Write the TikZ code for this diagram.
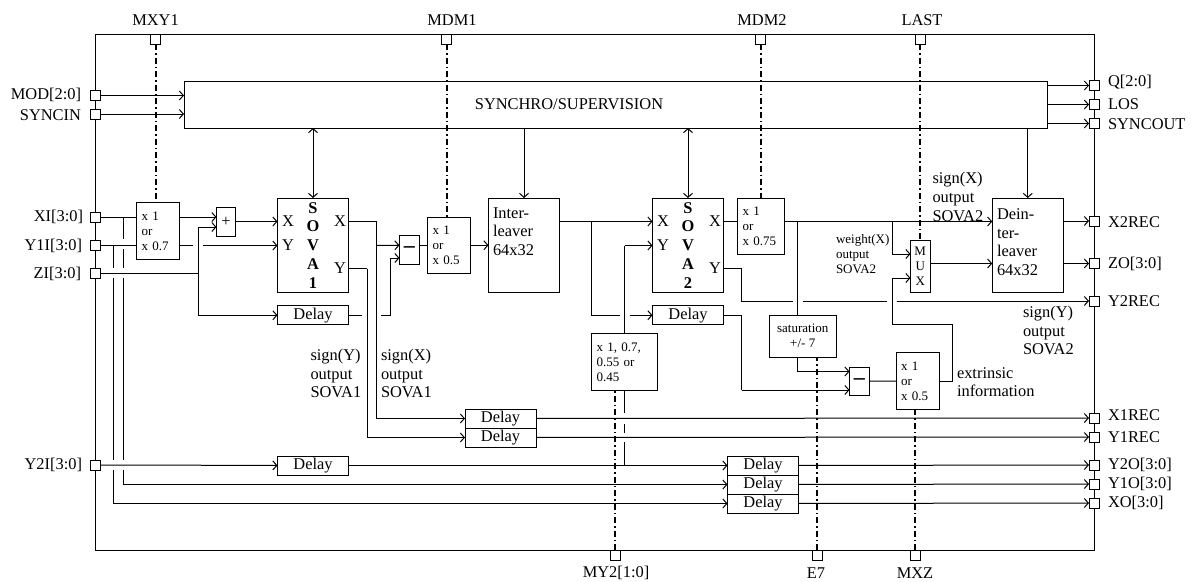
\documentclass[tikz,border=0pt]{standalone}
\usepackage{fontspec}
\setmainfont{Liberation Serif}
\usetikzlibrary{arrows.meta, positioning}

\begin{document}
\begin{tikzpicture}[x=1pt, y=-1pt, line width=1pt, >={Straight Barb[length=4pt,width=9pt]},
        every node/.style={font=\fontsize{16.4}{18.7}\selectfont, inner sep=0pt, outer sep=0pt},
        pad/.style={draw, fill=white, minimum size=10pt},
        blk/.style={draw, fill=white, minimum width=71pt, minimum height=94.5pt},
        dly/.style={draw, fill=white, minimum width=71pt, minimum height=19pt},
        sumbox/.style={draw, fill=white, minimum width=19.5pt, minimum height=28.5pt},
        mulbox/.style={draw, fill=white, align=left, inner xsep=5pt, minimum height=56.5pt, font=\fontsize{13}{15}\selectfont},
        small/.style={align=left, font=\fontsize{13}{15}\selectfont},
        note/.style={align=left},
        ctrl/.style={line width=2pt, dash pattern=on 6pt off 3pt on 1.5pt off 3pt}]
        \useasboundingbox (0,0) rectangle (1194,581);

        % Khung ngoai
        \node[draw, minimum width=999pt, minimum height=516pt] (chip) at (594.5,292) {};

        % Chan ben trai
        \node[pad] (pMOD) at (95,95.5) {};
        \node[pad] (pSYNCIN) at (95,114) {};
        \node[pad] (pXI) at (95,217) {};
        \node[pad] (pYI) at (95,245.5) {};
        \node[pad] (pZI) at (95,273.5) {};
        \node[pad] (pYII) at (95,465) {};
        \node[anchor=east] (tMOD) at (81,95) {MOD[2:0]};
        \node[anchor=east] (tSYNCIN) at (81,115) {SYNCIN};
        \node[anchor=east] (tXI) at (83,217) {XI[3:0]};
        \node[anchor=east] (tYI) at (82,246) {Y1I[3:0]};
        \node[anchor=east] (tZI) at (81,274) {ZI[3:0]};
        \node[anchor=east] (tYII) at (82,465) {Y2I[3:0]};

        % Chan ben phai
        \node[pad] (pQ) at (1094,85.5) {};
        \node[pad] (pLOS) at (1094,104.5) {};
        \node[pad] (pSYNCOUT) at (1094,123.5) {};
        \node[pad] (pXREC) at (1094,221) {};
        \node[pad] (pZO) at (1094,263.5) {};
        \node[pad] (pYREC) at (1094,301) {};
        \node[pad] (pXAREC) at (1094,418) {};
        \node[pad] (pYAREC) at (1094,437) {};
        \node[pad] (pYTO) at (1094,465) {};
        \node[pad] (pYOO) at (1094,484) {};
        \node[pad] (pXO) at (1094,503) {};
        \node[anchor=west] (tQ) at (1108,82) {Q[2:0]};
        \node[anchor=west] (tLOS) at (1108,104) {LOS};
        \node[anchor=west] (tSYNCOUT) at (1108,124) {SYNCOUT};
        \node[anchor=west] (tXREC) at (1108,222) {X2REC};
        \node[anchor=west] (tZO) at (1108,264) {ZO[3:0]};
        \node[anchor=west] (tYREC) at (1108,301) {Y2REC};
        \node[anchor=west] (tXAREC) at (1108,415) {X1REC};
        \node[anchor=west] (tYAREC) at (1108,437) {Y1REC};
        \node[anchor=west] (tYTO) at (1108,465) {Y2O[3:0]};
        \node[anchor=west] (tYOO) at (1108,484) {Y1O[3:0]};
        \node[anchor=west] (tXO) at (1108,503) {XO[3:0]};

        % Chan tren va duoi
        \node[pad] (pMXY) at (155.5,39) {};
        \node[pad] (pMDMA) at (446.5,39) {};
        \node[pad] (pMDMB) at (760.5,39) {};
        \node[pad] (pLAST) at (920,39) {};
        \node[pad] (pMY) at (615,555) {};
        \node[pad] (pE) at (817,555) {};
        \node[pad] (pMXZ) at (915,555) {};
        \node (tMXY) at (155.5,20) {MXY1};
        \node (tMDMA) at (452,20) {MDM1};
        \node (tMDMB) at (762,20) {MDM2};
        \node (tLAST) at (922,20) {LAST};
        \node (tMY) at (616,573) {MY2[1:0]};
        \node (tE) at (816,573) {E7};
        \node (tMXZ) at (915,573) {MXZ};

        % Cac khoi
        \node[draw, minimum width=863pt, minimum height=47pt] (sync) at (615.5,104.5) {};
        \node (tsync) at (569,104.5) {SYNCHRO/SUPERVISION};
        \node[mulbox, text width=32.5pt] (mulA) at (157.75,231) {x 1\\or\\x 0.7};
        \node[draw, minimum width=19pt, minimum height=28.5pt] (add) at (226,221.75) {+};
        \node[blk, align=center] (sovaA) at (313,245.25) {\textbf{S}\\\textbf{O}\\\textbf{V}\\\textbf{A}\\\textbf{1}};
        \node (sAX) at (288,221.5) {X};
        \node (sAY) at (288,245.5) {Y};
        \node (sAXo) at (340,221.5) {X};
        \node (sAYo) at (340,268.5) {Y};
        \node[dly] (dlyA) at (313,315.25) {Delay};
        \node[sumbox] (subA) at (409.25,249.75) {\fontsize{22}{22}\selectfont\bfseries –};
        \node[mulbox, text width=33pt] (mulB) at (449,245.25) {x 1\\or\\x 0.5};
        \node[blk] (inter) at (524,245.25) {};
        \node[anchor=west, note] (tinter) at (493,231.5) {Inter-\\leaver\\64x32};
        \node[blk, align=center] (sovaB) at (688,245.25) {\textbf{S}\\\textbf{O}\\\textbf{V}\\\textbf{A}\\\textbf{2}};
        \node (sBX) at (663,221.5) {X};
        \node (sBY) at (663,245.5) {Y};
        \node (sBXo) at (715,221.5) {X};
        \node (sBYo) at (715,268.5) {Y};
        \node[mulbox, text width=37pt] (mulC) at (761,226.25) {x 1\\or\\x 0.75};
        \node[dly] (dlyB) at (688,315.25) {Delay};
        \node[draw, align=center, minimum width=19.5pt, minimum height=52.5pt, font=\fontsize{13}{15}\selectfont] (mux) at (920.25,266.25) {M\\U\\X};
        \node[blk] (deint) at (1027.75,245.25) {};
        \node[anchor=west, note] (tdeint) at (997,242) {Dein-\\ter-\\leaver\\64x32};
        \node[mulbox, text width=56pt] (mulD) at (624.5,362) {x 1, 0.7,\\0.55 or\\0.45};
        \node[draw, align=center, minimum width=66.5pt, minimum height=42.5pt, font=\fontsize{13}{15}\selectfont] (satur) at (802.75,336.25) {saturation\\+/- 7};
        \node[sumbox] (subB) at (859.25,381.25) {\fontsize{22}{22}\selectfont\bfseries –};
        \node[mulbox, text width=33pt] (mulE) at (917.5,381) {x 1\\or\\x 0.5};
        \node[dly] (dlyC) at (500.5,418.5) {Delay};
        \node[dly] (dlyD) at (500.5,437.5) {Delay};
        \node[dly] (dlyE) at (313,465.5) {Delay};
        \node[dly] (dlyF) at (763,465.5) {Delay};
        \node[dly] (dlyG) at (763,484.5) {Delay};
        \node[dly] (dlyH) at (763,503.5) {Delay};

        % Chu thich
        \node[anchor=west, note] (nXB) at (932.5,197) {sign(X)\\output\\SOVA2};
        \node[anchor=west, small] (nW) at (836,254) {weight(X)\\output\\SOVA2};
        \node[anchor=west, note] (nYA) at (310.5,373.5) {sign(Y)\\output\\SOVA1};
        \node[anchor=west, note] (nXA) at (381,373.5) {sign(X)\\output\\SOVA1};
        \node[anchor=west, note] (nYB) at (1023,330.5) {sign(Y)\\output\\SOVA2};
        \node[anchor=west, note] (nE) at (957,382) {extrinsic\\information};

        % Dong dieu khien
        \draw[ctrl] (pMXY) -- (mulA.north -| pMXY);
        \draw[ctrl] (pMDMA) -- (mulB.north -| pMDMA);
        \draw[ctrl] (pMDMB) -- (mulC.north -| pMDMB);
        \draw[ctrl] (pLAST) -- (mux.north -| pLAST);
        \draw[ctrl] (pMY) -- (mulD.south -| pMY);
        \draw[ctrl] (pE) -- (satur.south -| pE);
        \draw[ctrl] (pMXZ) -- (mulE.south -| pMXZ);

        % Khoi dong bo
        \draw[->] (pMOD) -- (sync.west |- pMOD);
        \draw[->] (pSYNCIN) -- (sync.west |- pSYNCIN);
        \draw[<->] (sync.south -| sovaA) -- (sovaA);
        \draw[->] (sync.south -| inter) -- (inter);
        \draw[<->] (sync.south -| sovaB) -- (sovaB);
        \draw[->] (sync.south -| deint) -- (deint);
        \draw[->] (sync.east |- pQ) -- (pQ);
        \draw[->] (sync.east |- pLOS) -- (pLOS);
        \draw[->] (sync.east |- pSYNCOUT) -- (pSYNCOUT);

        % Nhanh dau vao
        \draw (pXI) -- (mulA.west |- pXI);
        \draw (pYI) -- (mulA.west |- pYI);
        \draw[->] (mulA.east |- pXI) -- (add.west |- pXI);
        \draw[->] (add.east |- sAX) -- (sovaA.west |- sAX);
        \draw (mulA.east |- pYI) -- (193,245.5);
        \draw[->] (203,245.5) -- (sovaA.west |- sAY);
        \draw (pZI) -- (198,273.5);
        \draw[->] (198,315.25) |- (add.west |- 0,227);
        \draw[->] (198,273.5) |- (dlyA);
        \draw (123,217) -- (123,239) (123,249) -- (123,268) (123,278) -- (123,460);
        \draw[->] (123,470) |- (dlyG);
        \draw (113.5,245.5) -- (113.5,268) (113.5,278) -- (113.5,460);
        \draw[->] (113.5,470) |- (dlyH);
        \draw[->] (pYII) -- (dlyE);
        \draw[->] (dlyE) -- (dlyF);

        % SOVA1
        \draw (sovaA.east |- sAXo) -- (376.5,221.5);
        \draw[->] (376.5,221.5) |- (dlyC);
        \draw[->] (376.5,245.5) -- (subA.west |- mulB);
        \draw (sovaA.east |- sAYo) -- (367,268.5);
        \draw[->] (367,268.5) |- (dlyD);
        \draw (dlyA) -- (362,315.25);
        \draw[->] (381,315.25) -| (390,258) -- (399.5,258);
        \draw (subA.east |- mulB) -- (mulB);
        \draw[->] (mulB) -- (inter.west |- mulB);

        % SOVA2
        \draw[->] (inter.east |- sBX) -- (sovaB.west |- sBX);
        \draw (591.5,221.5) -- (591.5,315.25) -- (620,315.25);
        \draw[->] (629.5,315.25) -- (dlyB);
        \draw (mulD.north -| 624.5,0) -- (624.5,245.5);
        \draw[->] (624.5,245.5) -- (sovaB.west |- sBY);
        \draw (mulD.south -| 624.5,0) -- (624.5,413) (624.5,424) -- (624.5,433) (624.5,442) -- (624.5,465);
        \draw (sovaB.east |- sBXo) -- (mulC.west |- sBXo);
        \draw[->] (mulC.east |- sBXo) -- (deint.west |- sBXo);
        \draw (sovaB.east |- sBYo) -| (741.5,301) -- (793,301) (802.5,301) -- (887,301);
        \draw[->] (896.5,301) -- (pYREC);
        \draw (dlyB) -| (741.5,390);
        \draw[->] (741.5,390) -- (subB.west |- 0,390);
        \draw (797.5,221.5) -- (satur.north -| 797.5,0);
        \draw[->] (satur.south -| 797.5,0) |- (subB.west |- 0,371.5);
        \draw (subB) -- (mulE);
        \draw[->] (892,221.5) |- (mux.west |- 0,254);
        \draw[->] (mulE.east) -| (952.5,324) -| (892,278) -- (mux.west |- 0,278);
        \draw[->] (mux.east |- pZO) -- (deint.west |- pZO);

        % Dau ra
        \draw[->] (deint.east |- pXREC) -- (pXREC);
        \draw[->] (deint.east |- pZO) -- (pZO);
        \draw[->] (dlyC) -- (pXAREC);
        \draw[->] (dlyD) -- (pYAREC);
        \draw[->] (dlyF) -- (pYTO);
        \draw[->] (dlyG) -- (pYOO);
        \draw[->] (dlyH) -- (pXO);
    \end{tikzpicture}
\end{document}
